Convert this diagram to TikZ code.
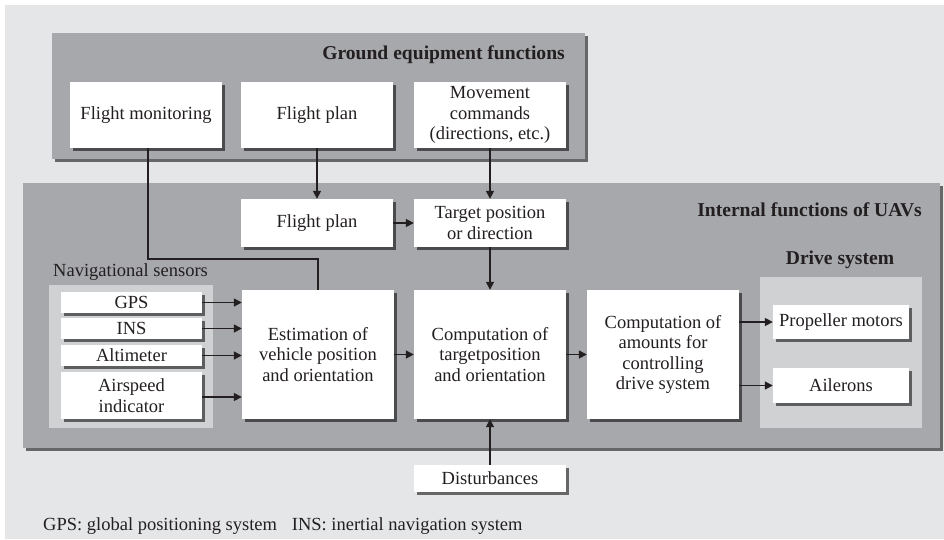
\documentclass[tikz,border=0pt]{standalone}
\usepackage{fontspec}
\setmainfont{Liberation Serif}
\usetikzlibrary{shadows,arrows.meta}
\definecolor{bgc}{RGB}{229,230,232}
\definecolor{panelc}{RGB}{167,168,171}
\definecolor{lightc}{RGB}{208,209,211}
\definecolor{txtc}{RGB}{35,31,32}
\begin{document}
\begin{tikzpicture}[x=1pt,y=-1pt,
  shad/.style={drop shadow={shadow xshift=2.5pt,shadow yshift=-2.5pt,fill=black,opacity=0.55}},
  box/.style={fill=white, text=txtc, align=center, inner sep=0pt,
    font=\fontsize{18.5}{20.5}\selectfont, shad},
  panel/.style={fill=panelc, shad},
  lpanel/.style={fill=lightc},
  title/.style={font=\bfseries\fontsize{19.6}{22}\selectfont, text=txtc, inner sep=0pt},
  plain/.style={font=\fontsize{18.5}{20.5}\selectfont, text=txtc, inner sep=0pt},
  conn/.style={line width=1.6pt, draw=txtc},
  arr/.style={conn, -{Triangle[length=8pt,width=8pt]}}
]
\useasboundingbox (0,0) rectangle (944,539);
\fill[white] (0,0) rectangle (944,539);
\fill[bgc] (5,5) rectangle (944,539);

% panels
\path[panel] (52,33) rectangle (585,159);
\path[panel] (23,183) rectangle (940,448);
\path[lpanel] (49,285) rectangle (213,428);
\path[lpanel] (760,277) rectangle (922,428);

% titles
\node[title, anchor=east] (gtitle) at (565,55) {Ground equipment functions};
\node[title, anchor=east] (ititle) at (922,210) {Internal functions of UAVs};
\node[title] (dtitle) at (840,260) {Drive system};
\node[plain, anchor=west] (ntitle) at (53,272) {Navigational sensors};

% ground boxes
\node[box, minimum width=152pt, minimum height=66pt] (fm) at (146,115) {Flight monitoring};
\node[box, minimum width=152pt, minimum height=66pt] (fp1) at (317,115) {Flight plan};
\node[box, minimum width=152pt, minimum height=66pt] (mc) at (490,115) {Movement\\commands\\(directions, etc.)};

% internal boxes
\node[box, minimum width=152pt, minimum height=48pt] (fp2) at (317,223) {Flight plan};
\node[box, minimum width=152pt, minimum height=48pt] (tp) at (490,223) {Target position\\or direction};
\node[box, minimum width=152pt, minimum height=129pt] (est) at (318,354.5) {Estimation of\\vehicle position\\and orientation};
\node[box, minimum width=152pt, minimum height=129pt] (comp) at (490,354.5) {Computation of\\targetposition\\and orientation};
\node[box, minimum width=152pt, minimum height=129pt] (amt) at (663,354.5) {Computation of\\amounts for\\controlling\\drive system};

% sensors
\node[box, minimum width=141pt, minimum height=21pt] (gps) at (131.5,302.5) {GPS};
\node[box, minimum width=141pt, minimum height=21pt] (ins) at (131.5,328.5) {INS};
\node[box, minimum width=141pt, minimum height=21pt] (alt) at (131.5,355.5) {Altimeter};
\node[box, minimum width=141pt, minimum height=47pt] (air) at (131.5,395.5) {Airspeed\\indicator};

% drive
\node[box, minimum width=136pt, minimum height=34pt] (pm) at (841,322) {Propeller motors};
\node[box, minimum width=136pt, minimum height=35pt] (ail) at (841,385.5) {Ailerons};

% disturbances
\node[box, minimum width=152pt, minimum height=27pt] (dist) at (490,478.5) {Disturbances};

% footnote
\node[plain, anchor=west] (foot) at (43,526) {GPS: global positioning system\hspace{0.8em}INS: inertial navigation system};

% connectors
\coordinate (turn) at (148,259);
\draw[conn] (fm.south -| turn) -- (turn) -| (est.north);
\draw[arr] (fp1) -- (fp2);
\draw[arr] (mc) -- (tp);
\draw[arr] (fp2) -- (tp);
\draw[arr] (tp) -- (comp);
\draw[arr] (dist) -- (comp);
\draw[arr] (gps.east) -- (gps.east -| est.west);
\draw[arr] (ins.east) -- (ins.east -| est.west);
\draw[arr] (alt.east) -- (alt.east -| est.west);
\draw[arr] ([yshift=-1.5pt]air.east) -- ([yshift=-1.5pt]air.east -| est.west);
\draw[arr] (est) -- (comp);
\draw[arr] (comp) -- (amt);
\draw[arr] (pm.west -| amt.east) -- (pm.west);
\draw[arr] (ail.west -| amt.east) -- (ail.west);
\end{tikzpicture}
\end{document}
